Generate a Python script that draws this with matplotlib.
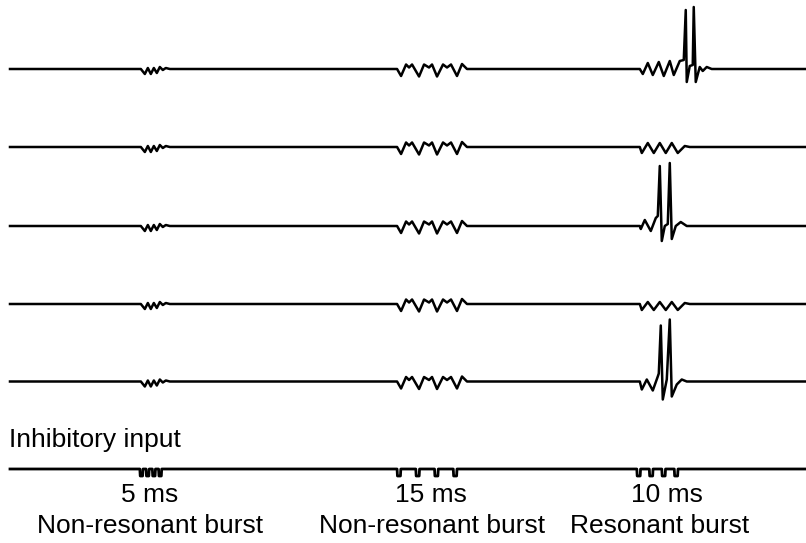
import numpy as np
import matplotlib.pyplot as plt

# time in ms, amplitude in arbitrary units (positive = depolarising)
T_END = 637

# inhibitory input bursts: start time (ms), interval (ms), number of pulses
burst_starts = [104, 310, 502]
burst_intervals = [5, 15, 10]
burst_npulses = [4, 4, 4]
pulse_widths = [2.5, 3.0, 3.0]
pulse_depth = 7

# response to 5 ms burst (time after burst onset, amplitude) - same on all cells
resp1_t = [0.8, 4.0, 6.4, 8.8, 11.2, 13.6, 16.0, 18.4, 20.8, 24.0]
resp1_v = [0, -5, 1, -5, 1, -4, 2, -1, 1, 0]

# response to 15 ms burst
resp2_t = [0, 3.2, 7.2, 9.6, 12.0, 17.6, 21.6, 25.6, 28.0, 32.0, 36.8, 40.0, 43.2, 48.0, 52.0, 56.0]
resp2_v = [0, -7, 4.5, 1.5, 4.5, -7.5, 4.5, 1.5, 4.5, -7.5, 4.5, 1.5, 4.5, -7, 5, 0]

# responses to 10 ms (resonant) burst, one per cell
resp3_t = [
    [2.4, 4.8, 8.8, 12.8, 17.6, 21.6, 26.4, 29.6, 34.4, 37.6, 39.2, 40.0, 42.4, 44.8, 45.6, 47.2, 50.4, 52.8, 56.0, 60.0],
    [2.4, 4.0, 8.8, 13.6, 18.4, 23.2, 28.0, 32.8, 38.4, 42.4],
    [2.4, 3.2, 6.4, 11.2, 15.2, 16.8, 18.4, 20.0, 22.4, 24.8, 26.4, 28.0, 31.2, 35.2, 40.0],
    [2.4, 4.0, 8.8, 13.6, 18.4, 23.2, 28.0, 32.8, 38.4, 42.4],
    [2.4, 4.0, 8.0, 12.8, 16.8, 17.6, 19.2, 20.8, 24.0, 26.4, 28.0, 32.0, 36.0, 40.0],
]
resp3_v = [
    [0, -5, 6, -6, 7, -7, 8, -6, 8, 9, 59, -13, 3, 4, 62, -13, 2, -2, 2, 0],
    [0, -6, 4, -6, 4, -6, 4, -6, 1, 0],
    [0, -3, 6, -5, 8, 10, 60, -15, 0, 2, 63, -13, 0, 4, 0],
    [0, -6, 2, -6, 2, -6, 2, -6, 1, 0],
    [0, -8, 2, -9, 5, 8, 56, -18, 2, 62, -15, -3, 2, 0],
]

# vertical position of each trace (top to bottom) and of the input trace
trace_levels = [474, 396, 317, 239, 161.5]
input_level = 74


def trace(resp_list):
    t = [0]
    v = [0]
    for start, (rt, rv) in zip(burst_starts, resp_list):
        t += [start + x for x in rt]
        v += list(rv)
    t.append(T_END)
    v.append(0)
    return np.array(t), np.array(v)


def input_trace():
    t = [0]
    v = [0]
    for start, dt, n, w in zip(burst_starts, burst_intervals, burst_npulses, pulse_widths):
        for k in range(n):
            p = start + k * dt
            t += [p, p + 0.3, p + w - 0.3, p + w]
            v += [0, -pulse_depth, -pulse_depth, 0]
    t.append(T_END)
    v.append(0)
    return np.array(t), np.array(v)


fig = plt.figure(figsize=(8.06, 5.43), dpi=100)
ax = fig.add_axes([0, 0, 1, 1])
ax.set_xlim(-8, T_END + 0.5)
ax.set_ylim(0, 543)
ax.axis('off')

for i, lev in enumerate(trace_levels):
    t, v = trace([(resp1_t, resp1_v), (resp2_t, resp2_v), (resp3_t[i], resp3_v[i])])
    ax.plot(t, v + lev, color='black', lw=1.8, solid_joinstyle='round')

t, v = input_trace()
ax.plot(t, v + input_level, color='black', lw=2.0)

plt.rcParams['font.family'] = ['Liberation Sans', 'DejaVu Sans']
ax.text(-1, 96, 'Inhibitory input', fontsize=19, ha='left', va='baseline')

interval_labels = ['5 ms', '15 ms', '10 ms']
burst_labels = ['Non-resonant burst', 'Non-resonant burst', 'Resonant burst']
label_x = [112, 337, 526]
name_x = [112, 338, 520]
for lx, nx, a, b in zip(label_x, name_x, interval_labels, burst_labels):
    ax.text(lx, 48, a, fontsize=19, ha='center', va='center')
    ax.text(nx, 17, b, fontsize=19, ha='center', va='center')

fig.savefig('out.png', dpi=100)
